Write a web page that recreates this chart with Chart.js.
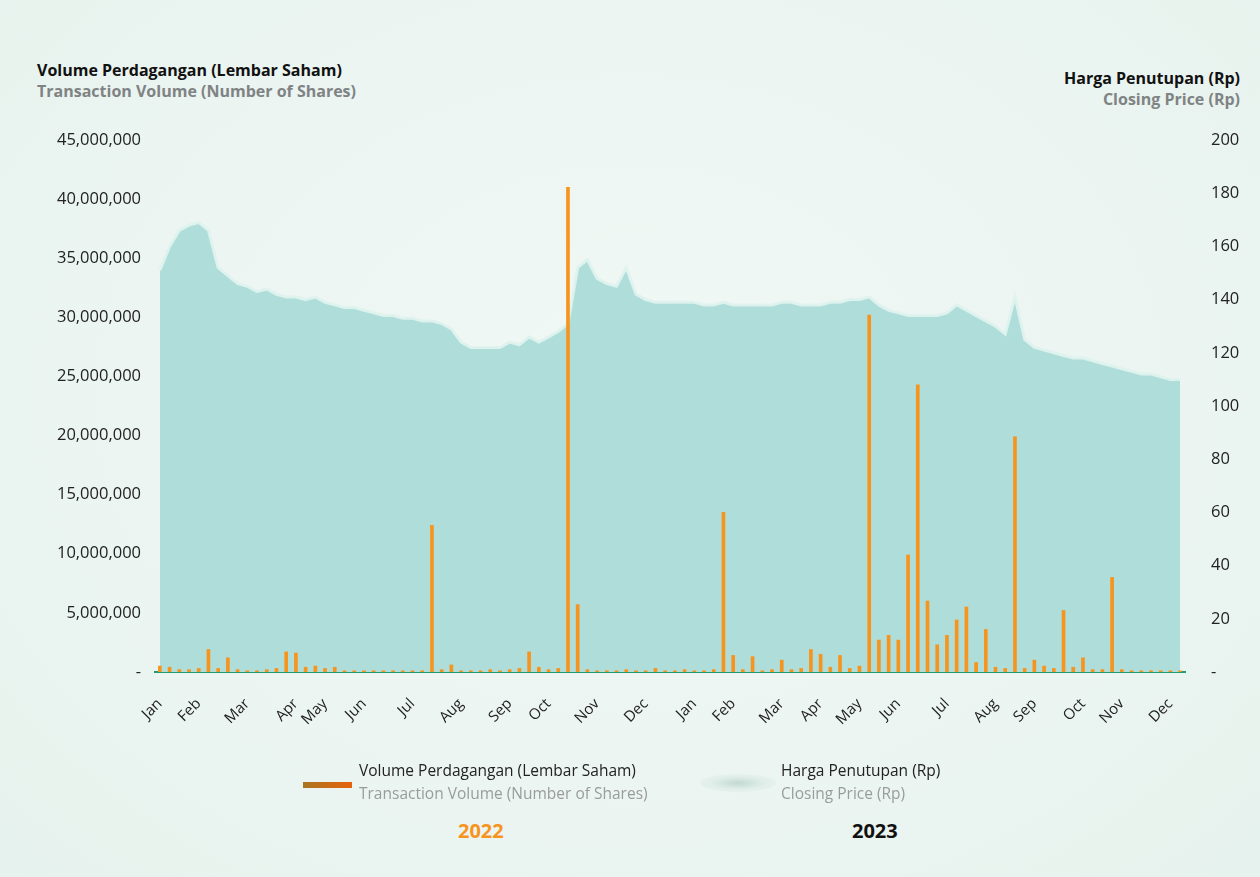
<!DOCTYPE html>
<html>
<head>
<meta charset="utf-8">
<script src="https://cdn.jsdelivr.net/npm/chart.js@4.4.1/dist/chart.umd.min.js"></script>
<style>
  body { margin: 0; width: 1260px; height: 877px; overflow: hidden;
         background: radial-gradient(ellipse at 50% 45%, #f1f8f5 0%, #eaf4f0 70%, #e6f2ed 100%);
         font-family: 'Open Sans', sans-serif; position: relative; }
  #wrap { position: absolute; left: 0; top: 0; width: 1260px; height: 760px; }
  .t { position: absolute; white-space: nowrap; line-height: 21px; }
  .b { font-weight: 700; font-size: 16px; }
  .dark { color: #111; }
  .grey { color: #7f8384; }
  .leg { font-size: 15.5px; line-height: 23px; }
</style>
</head>
<body>
<div class="t b" style="left:37px; top:60px;">
  <div class="dark">Volume Perdagangan (Lembar Saham)</div>
  <div class="grey">Transaction Volume (Number of Shares)</div>
</div>
<div class="t b" style="right:20px; top:68px; text-align:right;">
  <div class="dark">Harga Penutupan (Rp)</div>
  <div class="grey">Closing Price (Rp)</div>
</div>

<div id="wrap"><canvas id="myChart" width="1260" height="760"></canvas></div>

<div style="position:absolute; left:303px; top:782px; width:49px; height:6px; background:linear-gradient(90deg,#a9761f,#e8620c);"></div>
<div class="t leg" style="left:359px; top:759px;">
  <div style="color:#222;">Volume Perdagangan (Lembar Saham)</div>
  <div style="color:#9a9c9c;">Transaction Volume (Number of Shares)</div>
</div>
<div style="position:absolute; left:700px; top:774px; width:76px; height:18px; border-radius:50%; background:radial-gradient(ellipse at center, rgba(190,214,206,0.9) 0%, rgba(215,232,226,0.5) 50%, rgba(234,244,240,0) 100%);"></div>
<div class="t leg" style="left:781px; top:759px;">
  <div style="color:#222;">Harga Penutupan (Rp)</div>
  <div style="color:#9a9c9c;">Closing Price (Rp)</div>
</div>
<div class="t" style="left:458px; top:820px; font-size:20px; font-weight:700; color:#f7941d;">2022</div>
<div class="t" style="left:852px; top:820px; font-size:20px; font-weight:700; color:#111;">2023</div>

<script>
document.addEventListener("DOMContentLoaded", function () {
    // month names and how many weekly points fall in each month (2022 then 2023)
    const monthNames = ['Jan','Feb','Mar','Apr','May','Jun','Jul','Aug','Sep','Oct','Nov','Dec'];
    const weeks2022 = [4,5,5,3,4,5,5,5,4,5,5,5];
    const weeks2023 = [4,5,4,4,4,5,5,4,5,4,5,2];

    // weekly closing price (Rp)
    const closingPrice = [
        151,160,166,168,169,166,152,149,146,145,143,144,142,141,141,140,141,139,138,137,
        137,136,135,134,134,133,133,132,132,131,129,124,122,122,122,122,124,123,126,124,
        126,128,131,152,155,148,146,145,152,142,140,139,139,139,139,139,138,138,139,138,
        138,138,138,138,139,139,138,138,138,139,139,140,140,141,138,136,135,134,134,134,
        134,135,138,136,134,132,130,127,141,125,122,121,120,119,118,118,117,116,115,114,
        113,112,112,111,110,110
    ];

    // weekly transaction volume (millions of shares)
    const volumeMillions = [
        0.5,0.4,0.2,0.2,0.3,1.9,0.3,1.2,0.2,0.1,0.1,0.2,0.3,1.7,1.6,0.4,0.5,0.3,0.4,0.1,
        0.1,0.1,0.1,0.1,0.1,0.1,0.1,0.1,12.4,0.2,0.6,0.1,0.1,0.1,0.2,0.1,0.2,0.3,1.7,0.4,
        0.2,0.3,41,5.7,0.2,0.1,0.1,0.1,0.2,0.1,0.1,0.3,0.1,0.1,0.2,0.1,0.1,0.2,13.5,1.4,
        0.2,1.3,0.1,0.2,1.0,0.2,0.3,1.9,1.5,0.4,1.4,0.3,0.5,30.2,2.7,3.1,2.7,9.9,24.3,6.0,
        2.3,3.1,4.4,5.5,0.8,3.6,0.4,0.3,19.9,0.3,1.0,0.5,0.3,5.2,0.4,1.2,0.2,0.2,8.0,0.2,
        0.1,0.1,0.1,0.1,0.1,0.1
    ];

    // x labels: month name on the first week of each month, blank otherwise
    const labels = [];
    weeks2022.concat(weeks2023).forEach((n, i) => {
        for (let w = 0; w < n; w++) {
            labels.push(w === 0 ? monthNames[i % 12] : '');
        }
    });

    Chart.defaults.font.family = "'Open Sans', sans-serif";
    Chart.defaults.color = '#222';

    const ctx = document.getElementById('myChart').getContext('2d');
    new Chart(ctx, {
        data: {
            labels: labels,
            datasets: [
                {
                    type: 'bar',
                    label: 'Volume',
                    data: volumeMillions,
                    yAxisID: 'y',
                    backgroundColor: '#f7941d',
                    barThickness: 3,
                    order: 1
                },
                {
                    type: 'line',
                    label: 'Closing Price',
                    data: closingPrice,
                    yAxisID: 'y1',
                    fill: 'origin',
                    backgroundColor: '#afddd9',
                    borderColor: 'rgba(222,242,238,0.95)',
                    borderWidth: 3,
                    pointRadius: 0,
                    tension: 0,
                    order: 2
                }
            ]
        },
        options: {
            responsive: false,
            animation: false,
            layout: { padding: { top: 140, left: 0, right: 0, bottom: 0 } },
            plugins: {
                legend: { display: false },
                tooltip: { enabled: false }
            },
            scales: {
                x: {
                    offset: true,
                    grid: { display: false, drawTicks: false },
                    border: { display: true, color: '#1f9a72', width: 2 },
                    ticks: {
                        autoSkip: false,
                        minRotation: 45,
                        maxRotation: 45,
                        padding: 23,
                        font: { size: 15 },
                        color: '#222'
                    },
                    afterFit: function (scale) { scale.height = 88; }
                },
                y: {
                    position: 'left',
                    min: 0,
                    max: 45,
                    grid: { display: false, drawTicks: false },
                    border: { display: false },
                    ticks: {
                        stepSize: 5,
                        padding: 14,
                        font: { size: 16.5 },
                        color: '#222',
                        callback: v => v === 0 ? '-' : (v * 1000000).toLocaleString('en-US')
                    },
                    afterFit: function (scale) { scale.width = 155; }
                },
                y1: {
                    position: 'right',
                    min: 0,
                    max: 200,
                    grid: { display: false, drawTicks: false },
                    border: { display: false },
                    ticks: {
                        stepSize: 20,
                        padding: 26,
                        font: { size: 16.5 },
                        color: '#222',
                        callback: v => v === 0 ? '-' : v
                    },
                    afterFit: function (scale) { scale.width = 75; }
                }
            }
        }
    });
});
</script>
</body>
</html>
